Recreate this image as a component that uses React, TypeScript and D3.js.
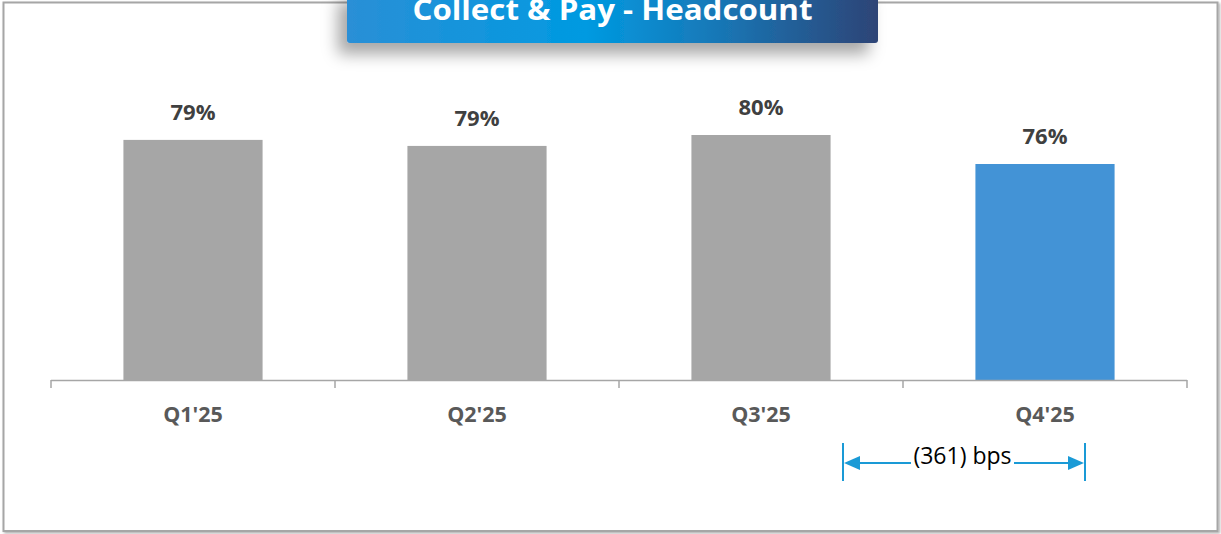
import React from "react";
import * as d3 from "d3";

const categories = ["Q1'25", "Q2'25", "Q3'25", "Q4'25"];
const values = [79.39, 78.64, 80.0, 76.39];
const labels = ["79%", "79%", "80%", "76%"];
const barColors = ["#a6a6a6", "#a6a6a6", "#a6a6a6", "#4393d6"];
const title = "Collect & Pay - Headcount";
const annotationText = "(361) bps";

const W = 1221;
const H = 534;

export default function App() {
  const x = d3.scaleBand<string>().domain(categories).range([51, 1187]).paddingInner(0.51).paddingOuter(0.255);
  const y = d3.scaleLinear().domain([49.5, 80]).range([380, 135]);
  const step = x.step();
  const boundaries = categories.map((c) => (x(c) as number) + x.bandwidth() / 2 - step / 2);
  boundaries.push(boundaries[boundaries.length - 1] + step);

  const annY = 463;
  const annL = 843;
  const annR = 1085;

  return (
    <svg width={W} height={H} style={{ position: "absolute", left: 0, top: 0, background: "#fff" }}>
      <defs>
        <linearGradient id="tg" x1="0" x2="1" y1="0" y2="0">
          <stop offset="0" stopColor="#2a8fd6" />
          <stop offset="0.45" stopColor="#009ae1" />
          <stop offset="0.7" stopColor="#1877b6" />
          <stop offset="1" stopColor="#2e4476" />
        </linearGradient>
        <filter id="sh" x="-20%" y="-50%" width="140%" height="250%">
          <feDropShadow dx="-9" dy="11" stdDeviation="8" floodColor="#000" floodOpacity="0.35" />
        </filter>
        <filter id="fs" x="-5%" y="-5%" width="110%" height="110%">
          <feDropShadow dx="1.5" dy="1.5" stdDeviation="1" floodColor="#000" floodOpacity="0.3" />
        </filter>
      </defs>
      {/* frame */}
      <rect x={3.5} y={2.5} width={1214} height={528.5} fill="#fff" stroke="#a6a6a6" strokeWidth={2} filter="url(#fs)" />

      {/* title box */}
      <rect x={347} y={-10} width={531} height={53} rx={3} fill="url(#tg)" filter="url(#sh)" />
      <text x={612.5} y={20} textAnchor="middle" fill="#fff" fontFamily="'Open Sans', sans-serif" fontWeight={700} fontSize={28} textLength={400} lengthAdjust="spacingAndGlyphs">
        {title}
      </text>

      {/* bars */}
      {categories.map((c, i) => (
        <rect key={c} x={x(c)} y={y(values[i])} width={x.bandwidth()} height={y.range()[0] - y(values[i])} fill={barColors[i]} />
      ))}
      {categories.map((c, i) => (
        <text key={c + "l"} x={(x(c) as number) + x.bandwidth() / 2} y={y(values[i]) - 20} textAnchor="middle" fill="#404040" fontFamily="'Open Sans', sans-serif" fontWeight={700} fontSize={22}>
          {labels[i]}
        </text>
      ))}

      {/* axis */}
      <line x1={boundaries[0]} x2={boundaries[boundaries.length - 1]} y1={380.5} y2={380.5} stroke="#a6a6a6" strokeWidth={1.5} />
      {boundaries.map((b, i) => (
        <line key={i} x1={b} x2={b} y1={380} y2={388} stroke="#a6a6a6" strokeWidth={1.5} />
      ))}
      {categories.map((c) => (
        <text key={c + "c"} x={(x(c) as number) + x.bandwidth() / 2} y={422} textAnchor="middle" fill="#595959" fontFamily="'Open Sans', sans-serif" fontWeight={700} fontSize={21.5}>
          {c}
        </text>
      ))}

      {/* annotation */}
      <g stroke="#1a9ad6" strokeWidth={2}>
        <line x1={annL} x2={annL} y1={443} y2={481} />
        <line x1={annR} x2={annR} y1={443} y2={481} />
        <line x1={annL + 14} x2={911} y1={annY} y2={annY} />
        <line x1={1014} x2={annR - 14} y1={annY} y2={annY} />
      </g>
      <path d={`M${annL + 1},${annY} L${annL + 17},${annY - 7} L${annL + 17},${annY + 7} Z`} fill="#1a9ad6" />
      <path d={`M${annR - 1},${annY} L${annR - 17},${annY - 7} L${annR - 17},${annY + 7} Z`} fill="#1a9ad6" />
      <text x={962.5} y={464} textAnchor="middle" fill="#000" fontFamily="'Open Sans', sans-serif" fontSize={23}>
        {annotationText}
      </text>
    </svg>
  );
}
